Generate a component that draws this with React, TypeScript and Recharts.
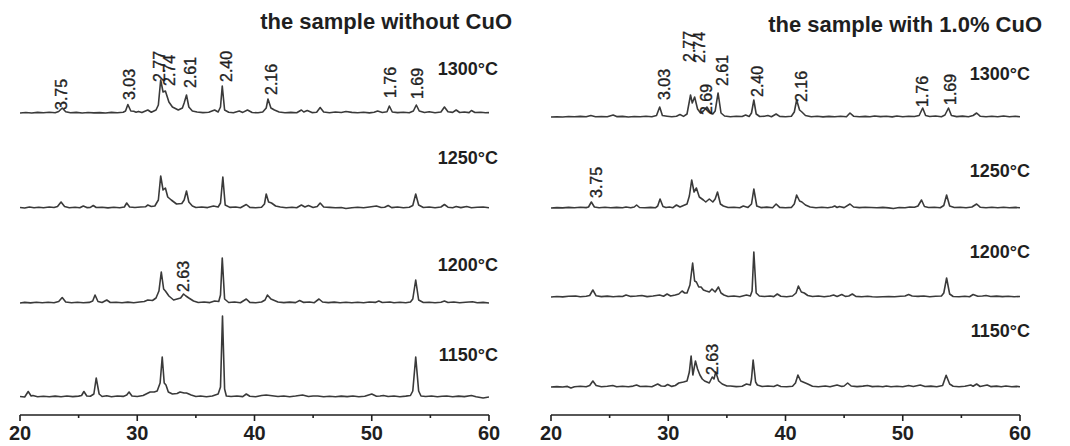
import React from "react";
import { LineChart, Line, XAxis, YAxis, ReferenceDot } from "recharts";

// XRD patterns: [2θ (deg), intensity (a.u.)] pairs, one list per firing temperature

// sample without CuO
const L1300 = [
  [20.0, 0], [20.5, 0.5], [21.0, 0], [21.5, 0.6], [22.0, 0.2], [22.5, 0.8], [23.0, 0.3], [23.3, 1.5], [23.6, 5], [23.9, 1.2],
  [24.3, 0.2], [24.8, 0.6], [25.3, 0], [25.8, 0.5], [26.3, 0.1], [26.8, 0.4], [27.3, 0], [27.8, 0.6], [28.3, 0.2], [28.8, 0.8],
  [29.0, 2], [29.2, 8.5], [29.45, 2], [29.7, 1.8], [29.9, 0.8], [30.1, 1.6], [30.4, 0.4], [30.9, 3], [31.2, 0.8], [31.6, 3],
  [31.8, 8], [32.0, 33], [32.2, 21], [32.4, 22], [32.7, 11], [33.0, 6], [33.5, 3], [33.85, 5], [34.0, 10], [34.2, 18],
  [34.4, 6], [34.7, 2], [35.1, 1], [35.6, 0.4], [36.1, 0.8], [36.6, 3], [36.9, 1], [37.1, 6], [37.25, 27], [37.45, 3],
  [37.8, 0.8], [38.2, 0.3], [38.7, 2], [39.0, 0.6], [39.4, 3], [39.8, 0.5], [40.3, 0.2], [40.7, 1], [41.0, 5], [41.15, 14],
  [41.4, 5], [41.7, 3], [42.1, 1], [42.6, 0.3], [43.1, 0.6], [43.6, 0.2], [44.0, 3], [44.2, 1], [44.5, 2.5], [44.9, 0.4],
  [45.3, 0.8], [45.6, 5.5], [45.9, 1], [46.4, 0.3], [46.9, 1], [47.4, 0.5], [47.8, 1.5], [48.3, 0.6], [48.8, 0.2], [49.3, 0.7],
  [49.8, 0.1], [50.2, 0.8], [50.5, 2], [50.9, 0.5], [51.3, 1.2], [51.5, 7], [51.75, 1], [52.2, 0.4], [52.7, 0.8], [53.2, 0.2],
  [53.55, 2], [53.8, 8], [54.05, 2], [54.5, 0.5], [54.9, 1.2], [55.4, 0.3], [55.9, 1], [56.2, 6], [56.5, 1.2], [56.9, 0.6],
  [57.2, 3], [57.5, 0.5], [57.9, 1], [58.3, 0.4], [58.5, 2.5], [58.8, 0.5], [59.3, 0.8], [59.7, 0.2], [60.0, 0.4],
];

const L1250 = [
  [20.0, 0.5], [20.4, 0], [20.8, 1], [21.2, 0.2], [21.6, 0.8], [22.0, 0.3], [22.5, 1], [22.9, 0.5], [23.2, 1.5], [23.5, 6],
  [23.8, 1.5], [24.2, 0.3], [24.7, 0.8], [25.1, 0.2], [25.4, 2], [25.7, 0.4], [26.0, 0.6], [26.25, 2.5], [26.5, 0.5], [27.0, 0.8],
  [27.5, 0.1], [28.0, 0.7], [28.5, 0.2], [28.9, 1], [29.1, 5], [29.35, 1], [29.8, 0.5], [30.3, 1], [30.7, 1.2], [30.9, 3],
  [31.2, 1.5], [31.5, 2], [31.8, 8], [32.0, 32], [32.2, 18], [32.4, 20], [32.6, 11], [32.9, 8], [33.35, 4], [33.8, 4.5],
  [34.0, 8], [34.2, 17], [34.4, 6], [34.7, 2], [35.0, 0.5], [35.5, 1], [36.0, 0.4], [36.5, 2], [36.9, 1], [37.1, 5],
  [37.3, 31], [37.5, 3], [37.9, 0.6], [38.4, 1], [38.8, 0.3], [39.3, 3.5], [39.6, 0.6], [40.1, 0.2], [40.6, 0.8], [40.85, 4],
  [41.0, 14], [41.2, 6], [41.45, 5], [41.8, 2], [42.2, 1], [42.7, 0.2], [43.2, 0.8], [43.6, 0.3], [44.0, 3], [44.3, 1],
  [44.6, 2.5], [45.0, 0.5], [45.35, 1.5], [45.6, 5], [45.9, 1], [46.4, 0.6], [46.9, 0.2], [47.4, 0.5], [47.8, -0.5], [48.3, 0.3],
  [48.8, 0.8], [49.3, 0.2], [49.8, 1], [50.4, 2], [50.8, 0.5], [51.1, 0.8], [51.4, 2.5], [51.7, 0.4], [52.2, 1], [52.7, 0.3],
  [53.2, 0.8], [53.5, 2.5], [53.75, 14], [54.0, 3], [54.4, 0.5], [54.9, 1], [55.4, 0.3], [55.9, 1], [56.2, 3.5], [56.5, 0.8],
  [56.9, 0.3], [57.2, 1.5], [57.6, 0.4], [58.1, 1.5], [58.5, 0.2], [59.0, 0.8], [59.5, 1], [60.0, 0.3],
];

const L1200 = [
  [20.0, 0], [20.4, 0.6], [20.9, 0.1], [21.4, 0.7], [21.9, 0.2], [22.4, 0.8], [22.9, 0.3], [23.3, 1.5], [23.6, 5.5], [23.9, 1],
  [24.4, 0.3], [24.9, 0.8], [25.4, 0.2], [25.9, 0.6], [26.2, 2], [26.4, 8], [26.65, 1.5], [27.0, 0.5], [27.4, 3], [27.7, 0.5],
  [28.2, 0.8], [28.7, 0.2], [29.2, 0.9], [29.7, 0.3], [30.2, 1], [30.6, 1.5], [30.9, 3], [31.3, 2.5], [31.6, 5], [31.85, 12],
  [32.05, 31], [32.25, 14], [32.4, 12], [32.7, 7], [33.1, 3], [33.4, 4], [33.7, 5], [33.95, 9], [34.15, 7], [34.4, 5],
  [34.8, 2], [35.2, 0.5], [35.7, 1], [36.2, 0.4], [36.6, 2], [36.95, 1.5], [37.1, 8], [37.25, 45], [37.45, 4], [37.8, 0.5],
  [38.3, 1], [38.8, 0.3], [39.3, 4], [39.6, 0.6], [40.1, 0.3], [40.6, 1], [40.9, 3], [41.1, 8], [41.4, 4], [41.6, 3],
  [42.0, 1], [42.5, 0.4], [43.0, 0.9], [43.5, 0.4], [43.85, 2.5], [44.2, 0.6], [44.7, 1], [45.1, 0.3], [45.5, 4], [45.8, 1],
  [46.3, 0.4], [46.8, 0.9], [47.3, 0.3], [47.8, 0.8], [48.3, 0.2], [48.8, 0.7], [49.3, 0.2], [49.8, 1], [50.3, 0.6], [50.6, 2],
  [50.9, 0.5], [51.25, 0.8], [51.55, 1], [51.9, 0.2], [52.4, 0.7], [52.9, 0.2], [53.3, 1], [53.5, 4], [53.75, 23], [54.0, 3],
  [54.4, 0.5], [54.9, 0.8], [55.4, 0.2], [55.9, 0.8], [56.2, 2], [56.5, 0.5], [57.0, 1], [57.5, 0.3], [58.0, 0.8], [58.6, 1.2],
  [59.0, 0.2], [59.5, 0.6], [60.0, 0],
];

const L1150 = [
  [20.0, 0.5], [20.4, 0], [20.7, 5.5], [20.95, 1], [21.1, 1.5], [21.5, 0.3], [22.0, 0.8], [22.5, 0.2], [23.0, 0.9], [23.5, 0.3],
  [24.0, 1], [24.5, 0.4], [25.0, 0.9], [25.25, 1.5], [25.45, 5.5], [25.7, 1], [26.0, 0.8], [26.3, 3], [26.5, 19], [26.75, 3],
  [27.0, 0.5], [27.4, 1.2], [27.8, 0.3], [28.3, 1], [28.8, 0.6], [29.1, 2], [29.3, 5], [29.55, 1], [30.0, 0.5], [30.5, 1.5],
  [31.1, 5], [31.45, 5], [31.7, 6], [31.95, 14], [32.13, 40], [32.3, 14], [32.45, 12], [32.65, 5], [33.0, 3], [33.4, 3.5],
  [33.65, 5], [34.0, 4], [34.2, 4], [34.6, 2], [35.0, 0.5], [35.4, 1], [35.9, 0.3], [36.4, 1], [36.9, 3], [37.1, 10],
  [37.27, 81], [37.45, 8], [37.6, 1], [38.0, 0.5], [38.5, 1], [39.0, 0.4], [39.3, 3], [39.6, 0.8], [40.1, 0.3], [40.6, 1.5],
  [41.0, 2], [41.5, 1.2], [42.0, 0.5], [42.5, 1], [43.0, 0.3], [43.5, 1], [44.1, 2], [44.6, 0.5], [45.0, 1], [45.4, 1],
  [45.9, 0.2], [46.4, 0.8], [46.9, 0.3], [47.4, 0.9], [47.9, 0.4], [48.4, 1], [48.9, 0.3], [49.4, 0.8], [50.0, 3], [50.4, 0.8],
  [50.7, 1], [51.0, 1.5], [51.4, 0.5], [51.9, 1], [52.4, 0.3], [52.9, 0.9], [53.3, 1.5], [53.5, 6], [53.75, 40], [54.0, 6],
  [54.2, 1], [54.6, 0.5], [55.1, 1], [55.6, 0.3], [56.0, 0.8], [56.4, 1], [56.9, 0.3], [57.4, 0.9], [57.9, 0.4], [58.5, 1.5],
  [58.9, 0.2], [59.5, -1], [60.0, 0],
];

// sample with 1.0% CuO
const R1300 = [
  [20.0, 0], [20.5, 0.3], [21.0, 0], [21.5, 0.5], [22.0, 0.2], [22.5, 0.6], [23.0, 0.3], [23.4, 1.5], [23.8, 0.3], [24.3, 0.5],
  [24.8, 0.2], [25.3, 2], [25.6, 0.4], [26.1, 0.6], [26.6, 0], [27.1, 0.5], [27.6, 0.2], [28.1, 0.7], [28.6, 0.3], [29.0, 1.5],
  [29.27, 10], [29.5, 1.5], [29.9, 0.8], [30.3, 0.2], [30.7, 0.8], [31.0, 2.5], [31.3, 0.6], [31.6, 3], [31.9, 22], [32.05, 14],
  [32.25, 20], [32.5, 8], [32.75, 4], [33.0, 6], [33.3, 10], [33.55, 5], [33.8, 3], [34.0, 6], [34.25, 24], [34.5, 4],
  [34.8, 1], [35.3, 0.3], [35.8, 0.8], [36.3, 0.5], [36.6, 2], [36.9, 0.5], [37.1, 4], [37.3, 17], [37.5, 3], [37.8, 0.5],
  [38.2, 0.8], [38.5, 1.5], [38.8, 0.3], [39.2, 3], [39.5, 0.6], [40.0, 0.2], [40.5, 0.7], [40.75, 5], [40.95, 17], [41.2, 7],
  [41.4, 5], [41.7, 1.5], [42.2, 0.3], [42.7, 0.8], [43.2, 0.1], [43.7, 0.6], [44.2, 0.2], [44.7, 0.8], [45.2, 0.3], [45.5, 4],
  [45.8, 0.8], [46.3, 0.2], [46.8, 0.6], [47.2, 0.2], [47.6, 1], [48.1, 0.4], [48.6, 0.7], [49.1, 0.1], [49.5, 1], [50.0, 0.3],
  [50.5, 0.8], [51.0, 0.5], [51.4, 1.5], [51.7, 9], [51.95, 1.5], [52.3, 0.5], [52.8, 1], [53.3, 0.3], [53.6, 2], [53.9, 9],
  [54.15, 1.5], [54.6, 0.4], [55.1, 0.9], [55.6, 0.3], [56.0, 1.5], [56.3, 4], [56.6, 0.8], [57.1, 0.3], [57.6, 0.8], [58.1, 0.2],
  [58.6, 1], [59.1, 0.3], [59.6, 0.7], [60.0, 0.2],
];

const R1250 = [
  [20.0, 0], [20.5, 0.4], [21.0, 0.1], [21.5, 0.6], [22.0, 0.3], [22.5, 0.8], [23.0, 0.4], [23.2, 1], [23.44, 6], [23.7, 1],
  [24.1, 0.3], [24.6, 0.8], [25.1, 0.2], [25.6, 0.6], [26.1, 0.2], [26.4, 1], [26.8, 0.2], [27.1, 1], [27.3, 3], [27.55, 0.5],
  [28.0, 0.3], [28.5, 0.6], [28.9, 0.2], [29.1, 2], [29.3, 9], [29.55, 1.5], [29.8, 0.5], [30.1, 1], [30.4, 0.3], [30.7, 3],
  [31.0, 1], [31.3, 2.5], [31.6, 4], [31.8, 12], [32.0, 28], [32.2, 16], [32.4, 20], [32.65, 11], [33.0, 8], [33.2, 6],
  [33.5, 9], [33.8, 6], [34.0, 9], [34.2, 16], [34.45, 4], [34.7, 2], [35.1, 0.5], [35.6, 0.8], [36.1, 0.3], [36.4, 2],
  [36.8, 0.6], [37.1, 4], [37.3, 19], [37.55, 2], [37.9, 0.4], [38.4, 0.9], [38.9, 0.3], [39.2, 4], [39.5, 0.6], [40.0, 0.2],
  [40.5, 0.6], [40.75, 4], [40.95, 13], [41.2, 7], [41.4, 6], [41.7, 3], [42.1, 1], [42.6, 0.3], [43.1, 0.8], [43.6, 0.2],
  [44.0, 1], [44.2, 2], [44.4, 0.5], [44.6, 1.5], [45.0, 0.4], [45.5, 4], [45.8, 1], [46.3, 0.4], [46.8, 0.8], [47.3, 0.5],
  [47.8, 0.2], [48.3, 0.6], [48.8, 0.1], [49.2, -0.5], [49.7, 0.5], [50.2, 0.2], [50.6, 1], [51.0, 0.8], [51.3, 2], [51.6, 8],
  [51.85, 1.5], [52.2, 0.5], [52.7, 0.8], [53.2, 0.3], [53.5, 2.5], [53.74, 13], [54.0, 2], [54.4, 0.5], [54.9, 0.8], [55.4, 0.2],
  [55.9, 1], [56.3, 4], [56.6, 0.8], [57.1, 0.3], [57.6, 0.7], [58.1, 0.2], [58.6, 0.8], [59.1, 0.2], [59.6, 0.6], [60.0, 0.2],
];

const R1200 = [
  [20.0, 0], [20.5, 0.5], [21.0, 0.1], [21.5, 0.7], [22.1, 1], [22.5, 0.2], [23.0, 0.8], [23.3, 1.5], [23.57, 7], [23.85, 1.2],
  [24.3, 0.4], [24.8, 0.9], [25.3, 0.3], [25.8, 0.8], [26.1, 0.5], [26.4, 2], [26.8, 0.6], [27.3, 1], [27.75, 1.5], [28.2, 0.4],
  [28.7, 1], [29.26, 2], [29.6, 0.8], [29.9, 3], [30.2, 1], [30.6, 2], [30.9, 3], [31.18, 6], [31.4, 4], [31.6, 4],
  [31.85, 12], [32.08, 34], [32.25, 16], [32.4, 15], [32.6, 10], [32.8, 10], [33.0, 7], [33.24, 6], [33.5, 5], [33.73, 8],
  [34.0, 5], [34.28, 10], [34.5, 4], [34.75, 2], [35.1, 0.5], [35.6, 1], [36.1, 0.3], [36.67, 2], [37.0, 1], [37.15, 6],
  [37.3, 45], [37.5, 4], [37.77, 1], [38.2, 0.5], [38.7, 1], [39.0, 0.4], [39.3, 3], [39.6, 0.8], [40.1, 0.3], [40.6, 1],
  [40.9, 4], [41.1, 11], [41.35, 5], [41.6, 4], [41.9, 1.5], [42.3, 0.5], [42.8, 1], [43.3, 0.3], [43.8, 1], [44.1, 2],
  [44.4, 0.5], [44.8, 2.5], [45.1, 0.6], [45.4, 1], [45.7, 3], [46.0, 0.6], [46.5, 0.3], [47.0, 0.8], [47.4, 0.2], [47.8, 0],
  [48.3, 0.3], [48.8, 0.5], [49.3, 0.2], [49.8, 0.8], [50.2, 1], [50.5, 2.5], [50.8, 1], [51.3, 0.6], [51.8, 1], [52.3, 0.3],
  [52.8, 0.8], [53.3, 1], [53.5, 4], [53.74, 19], [54.0, 3], [54.3, 0.5], [54.8, 0.2], [55.3, 0.8], [55.7, 0.3], [56.0, 2.5],
  [56.4, 0.8], [56.8, 1], [57.1, 1.5], [57.5, 0.5], [58.0, 0.9], [58.5, 0.4], [59.0, 0.8], [59.5, 0.3], [60.0, 0.5],
];

const R1150 = [
  [20.0, 0], [20.5, 0.4], [21.0, 0], [21.4, 0.6], [21.7, -1], [22.0, 0.3], [22.5, 0.7], [23.0, 0.3], [23.3, 1.5], [23.57, 6],
  [23.85, 1.5], [24.3, 0.3], [24.8, 0.8], [25.27, 1.5], [25.6, 0.3], [26.1, 0.8], [26.6, 0.2], [27.0, 0.9], [27.3, 2], [27.6, 0.5],
  [28.1, 0.8], [28.6, 0.3], [29.1, 3], [29.4, 1], [29.7, 0.8], [29.95, 2.5], [30.3, 0.6], [30.6, 1.5], [30.9, 4], [31.3, 5],
  [31.6, 6], [31.8, 15], [31.95, 31], [32.1, 12], [32.32, 26], [32.5, 18], [32.7, 12], [32.9, 8], [33.1, 6], [33.5, 4],
  [33.75, 10], [33.9, 8], [34.05, 15], [34.3, 6], [34.6, 3], [35.0, 1], [35.3, 1], [35.8, 0.4], [36.3, 0.8], [36.67, 3],
  [37.0, 2], [37.1, 8], [37.24, 27], [37.45, 5], [37.6, 2], [38.0, 0.5], [38.5, 1], [39.0, 0.5], [39.3, 2], [39.6, 0.5],
  [40.1, 0.2], [40.6, 0.8], [40.85, 4], [41.06, 12], [41.3, 6], [41.5, 5], [41.9, 3], [42.3, 0.8], [42.8, 0.3], [43.4, 1],
  [43.8, 0.3], [44.4, 2], [44.8, 0.6], [45.0, 1], [45.3, 4], [45.6, 1], [46.1, 0.4], [46.6, 0.9], [47.0, 1.5], [47.4, 0.4],
  [47.9, 0.8], [48.3, 0.2], [48.6, 1], [49.0, 0.3], [49.5, 0.8], [50.0, 0.3], [50.5, 1.5], [50.9, 0.5], [51.5, 2], [51.9, 0.5],
  [52.4, 0.9], [52.9, 0.3], [53.4, 1.5], [53.7, 11.7], [54.0, 3], [54.3, 0.8], [54.8, 0.3], [55.3, 0.8], [55.8, 2], [56.0, 0.8],
  [56.3, 3], [56.6, 0.5], [57.2, 2], [57.5, 0.4], [58.0, 0.9], [58.4, 0.3], [58.8, 1], [59.3, 0.2], [59.7, 0.6], [60.0, 0.2],
];

// d-spacing annotations (Å): 2θ of the label and the height where its text starts
const LEFT_PEAKS = [
  { d: "3.75", t: 23.56, y: 305 },
  { d: "3.03", t: 29.38, y: 315 },
  { d: "2.77", t: 31.88, y: 333 },
  { d: "2.74", t: 32.79, y: 329 },
  { d: "2.61", t: 34.58, y: 327 },
  { d: "2.40", t: 37.57, y: 333 },
  { d: "2.16", t: 41.47, y: 320 },
  { d: "1.76", t: 51.62, y: 317 },
  { d: "1.69", t: 53.94, y: 316 },
  { d: "2.63", t: 33.95, y: 123 },
];

const RIGHT_PEAKS = [
  { d: "3.03", t: 29.72, y: 315 },
  { d: "2.77", t: 31.8, y: 353 },
  { d: "2.74", t: 32.65, y: 352 },
  { d: "2.69", t: 33.28, y: 300 },
  { d: "2.61", t: 34.64, y: 329 },
  { d: "2.40", t: 37.63, y: 318 },
  { d: "2.16", t: 41.38, y: 313 },
  { d: "1.76", t: 51.7, y: 308 },
  { d: "1.69", t: 54.09, y: 310 },
  { d: "3.75", t: 23.9, y: 217 },
  { d: "2.63", t: 33.79, y: 40 },
];

const TICKS = [20, 25, 30, 35, 40, 45, 50, 55, 60];

const FONT = '"Liberation Sans", Arial, Helvetica, sans-serif';
const INK = "#1f1f1f";
const TRACE = "#3a3a3a";

// patterns are stacked, so each one sits on its own vertical offset
const LEFT_PATTERNS = [
  { key: "1300", offset: 302, points: L1300 },
  { key: "1250", offset: 207, points: L1250 },
  { key: "1200", offset: 112, points: L1200 },
  { key: "1150", offset: 18, points: L1150 },
];

const RIGHT_PATTERNS = [
  { key: "1300", offset: 298, points: R1300 },
  { key: "1250", offset: 207, points: R1250 },
  { key: "1200", offset: 118, points: R1200 },
  { key: "1150", offset: 28, points: R1150 },
];

const PANEL_W = 535;
const PANEL_H = 446;

function AxisTick(props: any) {
  const { x, y, payload } = props;
  const major = payload.value % 10 === 0;
  return (
    <g>
      <line x1={x} x2={x} y1={y} y2={y + (major ? 6 : 3)} stroke={INK} strokeWidth={1.6} />
      {major && (
        <text x={x} y={y + 25} textAnchor="middle" fontFamily={FONT} fontSize={20} fontWeight="bold" fill={INK}>
          {payload.value}
        </text>
      )}
    </g>
  );
}

function PeakLabel(text: string) {
  return (props: any) => {
    const { cx, cy } = props;
    return (
      <text
        x={cx}
        y={cy}
        transform={`rotate(-90 ${cx} ${cy})`}
        dominantBaseline="central"
        fontFamily={FONT}
        fontSize={16}
        fill={INK}
        stroke={INK}
        strokeWidth={0.35}
      >
        {text}
      </text>
    );
  };
}

interface PanelProps {
  left: number;
  plotLeft: number;
  plotRight: number;
  patterns: { key: string; offset: number; points: number[][] }[];
  peaks: { d: string; t: number; y: number }[];
}

function Panel({ left, plotLeft, plotRight, patterns, peaks }: PanelProps) {
  return (
    <div style={{ position: "absolute", left, top: 0 }}>
      <LineChart
        width={PANEL_W}
        height={PANEL_H}
        margin={{ top: 15, right: PANEL_W - plotRight, left: plotLeft, bottom: 0 }}
      >
        <XAxis
          dataKey="t"
          type="number"
          domain={[20, 60]}
          ticks={TICKS}
          interval={0}
          height={31}
          tickSize={0}
          tickMargin={0}
          tickLine={false}
          axisLine={{ stroke: INK, strokeWidth: 1.6 }}
          tick={(p: any) => <AxisTick {...p} />}
          allowDataOverflow
        />
        <YAxis type="number" domain={[0, 400]} hide allowDataOverflow />
        {patterns.map((p) => (
          <Line
            key={p.key}
            data={p.points.map(([t, h]) => ({ t, v: p.offset + h }))}
            dataKey="v"
            type="linear"
            stroke={TRACE}
            strokeWidth={1.6}
            strokeLinejoin="round"
            dot={false}
            activeDot={false}
            isAnimationActive={false}
          />
        ))}
        {peaks.map((pk) => (
          <ReferenceDot
            key={`${pk.d}-${pk.t}`}
            x={pk.t}
            y={pk.y}
            r={0}
            ifOverflow="visible"
            shape={PeakLabel(pk.d)}
          />
        ))}
      </LineChart>
    </div>
  );
}

const TEMPS_LEFT = [
  { text: "1300°C", y: 75 },
  { text: "1250°C", y: 164 },
  { text: "1200°C", y: 271 },
  { text: "1150°C", y: 361 },
];

const TEMPS_RIGHT = [
  { text: "1300°C", y: 80 },
  { text: "1250°C", y: 177 },
  { text: "1200°C", y: 258 },
  { text: "1150°C", y: 337 },
];

export default function App() {
  return (
    <div style={{ position: "absolute", left: 0, top: 0, width: 1070, height: 446, background: "#fff" }}>
      <Panel left={0} plotLeft={20} plotRight={489} patterns={LEFT_PATTERNS} peaks={LEFT_PEAKS} />
      <Panel left={PANEL_W} plotLeft={16} plotRight={485} patterns={RIGHT_PATTERNS} peaks={RIGHT_PEAKS} />
      <svg
        width={1070}
        height={446}
        style={{ position: "absolute", left: 0, top: 0, pointerEvents: "none" }}
        fontFamily={FONT}
        fill={INK}
      >
        <text x={512} y={29} textAnchor="end" fontSize={22} fontWeight="bold">
          the sample without CuO
        </text>
        <text x={1042} y={32} textAnchor="end" fontSize={22} fontWeight="bold">
          the sample with 1.0% CuO
        </text>
        {TEMPS_LEFT.map((t) => (
          <text key={`l${t.text}`} x={498} y={t.y} textAnchor="end" fontSize={18} fontWeight="bold">
            {t.text}
          </text>
        ))}
        {TEMPS_RIGHT.map((t) => (
          <text key={`r${t.text}`} x={1030} y={t.y} textAnchor="end" fontSize={18} fontWeight="bold">
            {t.text}
          </text>
        ))}
      </svg>
    </div>
  );
}
